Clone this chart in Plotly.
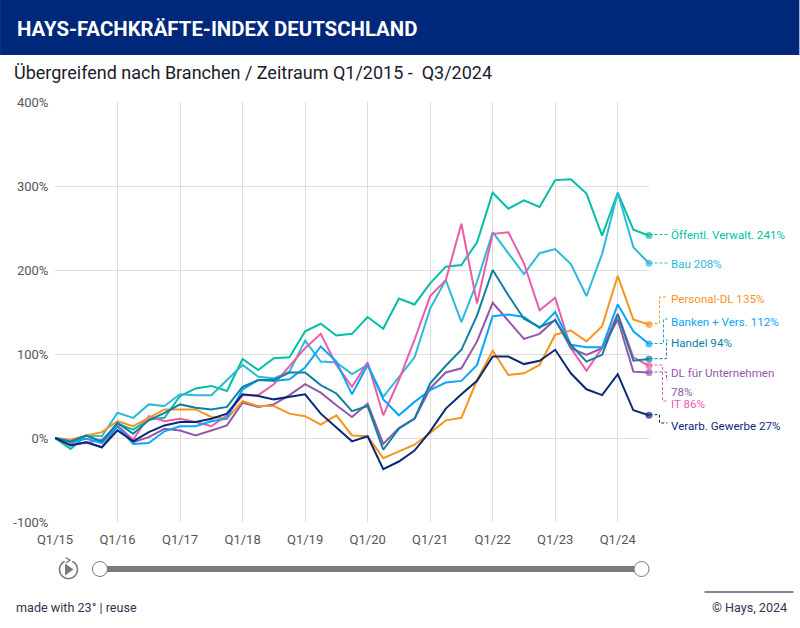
import math
import plotly.graph_objects as go

years = [15, 16, 17, 18, 19, 20, 21, 22, 23, 24]
quarters = [f"Q{q}/{y}" for y in years for q in (1, 2, 3, 4)][:39]
tick_labels = [f"Q1/{y}" for y in years]

oeffentl = [0, -13, 3, -5, 17, 10, 22, 24, 50, 59, 62, 56, 94, 81, 95, 96, 127, 136, 122, 124, 144, 130, 166, 159, 184, 204, 206, 233, 292, 273, 283, 275, 307, 308, 291, 241, 292, 248, 241]
bau = [0, -7, 3, 2, 30, 24, 40, 38, 52, 51, 51, 69, 87, 73, 71, 79, 116, 91, 90, 76, 87, 49, 72, 96, 154, 188, 138, 186, 245, 220, 195, 220, 225, 207, 169, 219, 292, 227, 208]
personal = [0, -2, 3, 7, 20, 14, 24, 34, 34, 34, 25, 23, 44, 38, 38, 29, 26, 16, 27, 3, 2, -24, -16, -8, 6, 21, 24, 69, 104, 75, 77, 87, 123, 128, 115, 133, 193, 141, 135]
banken = [0, -5, -1, -6, 14, -7, -6, 8, 14, 14, 20, 23, 58, 69, 68, 70, 84, 109, 91, 52, 87, 46, 27, 43, 57, 66, 68, 87, 145, 147, 144, 131, 150, 111, 108, 108, 159, 127, 112]
handel = [0, -4, 3, -4, 18, 5, 21, 30, 40, 36, 34, 37, 61, 69, 69, 78, 78, 63, 53, 32, 38, -14, 11, 23, 65, 86, 105, 146, 200, 170, 142, 132, 140, 111, 91, 99, 147, 92, 94]
it = [0, -7, -6, -2, 15, -2, 26, 20, 23, 19, 14, 27, 51, 51, 64, 85, 107, 124, 87, 61, 90, 27, 69, 117, 169, 188, 255, 160, 243, 245, 208, 152, 167, 107, 80, 107, 148, 96, 86]
dl = [0, -8, -5, -11, 14, -5, 1, 11, 9, 3, 9, 15, 42, 37, 40, 51, 64, 54, 39, 25, 41, -7, 12, 23, 59, 78, 83, 115, 161, 140, 118, 124, 141, 107, 99, 107, 141, 79, 78]
verarb = [0, -9, -5, -11, 9, -4, 7, 15, 19, 19, 23, 29, 52, 50, 46, 49, 52, 29, 13, -4, 2, -37, -28, -15, 8, 35, 52, 68, 97, 97, 88, 92, 105, 77, 58, 51, 76, 33, 27]

series_names = ["Öffentl. Verwalt.", "Bau", "IT", "DL für Unternehmen", "Personal-DL", "Banken + Vers.", "Handel", "Verarb. Gewerbe"]
series_values = [oeffentl, bau, it, dl, personal, banken, handel, verarb]
series_colors = ["#00BFA5", "#2FB9D8", "#EB5CA6", "#9558A8", "#F7941E", "#0BA5FA", "#0F7FA3", "#0A2A75"]

L, R, T, B = 55.0, 649.5, 102.0, 522.0
def px(x): return (x - L) / (R - L)
def py(y): return (B - y) / (B - T)

fig = go.Figure()
for name, vals, col in zip(series_names, series_values, series_colors):
    fig.add_trace(go.Scatter(
        x=quarters, y=vals, name=name, mode="lines+markers", cliponaxis=False,
        line=dict(color=col, width=2),
        marker=dict(color=col, size=[0] * (len(vals) - 1) + [7], line=dict(width=0)),
        showlegend=False, hovertemplate="%{x}: %{y}%<extra>" + name + "</extra>"))

shapes = []
annos = []
def rect(x0, y0, x1, y1, fill):
    shapes.append(dict(type="rect", xref="paper", yref="paper", x0=px(x0), x1=px(x1), y0=py(y0), y1=py(y1),
                       fillcolor=fill, line=dict(width=0), layer="below"))
def path(points, col, dash="dash", w=1):
    d = "M" + " L".join(f"{px(a)},{py(b)}" for a, b in points)
    shapes.append(dict(type="path", xref="paper", yref="paper", path=d, line=dict(color=col, width=w, dash=dash), layer="below"))
def text(x, y, s, col, size=12, anchor="left", fam="Roboto"):
    annos.append(dict(xref="paper", yref="paper", x=px(x), y=py(y), text=s, showarrow=False, xanchor=anchor,
                      yanchor="middle", align="left", xshift=-1 if anchor == "left" else 1, borderpad=0,
                      font=dict(family=fam, size=size, color=col)))

rect(0, 0, 800, 55, "#00287A")
text(17, 29, "<b>HAYS-FACHKRÄFTE-INDEX DEUTSCHLAND</b>", "#FFFFFF", 20.4)
text(14, 72, "Übergreifend nach Branchen / Zeitraum Q1/2015 -  Q3/2024", "#1B1B2B", 18)

labels = [
    ("Öffentl. Verwalt. 241%", 0, 235, [(650, 234.5), (668, 234.5)]),
    ("Bau 208%", 1, 263.5, [(650, 263), (668, 263)]),
    ("Personal-DL 135%", 4, 299, [(650, 323.5), (660, 323.5), (660, 297), (668, 297)]),
    ("Banken + Vers. 112%", 5, 322, [(650, 343.5), (664, 343.5), (664, 319), (668, 319)]),
    ("Handel 94%", 6, 343, [(650, 358.7), (667, 358.7), (667, 340), (668, 340)]),
    ("DL für Unternehmen", 3, 373, [(650, 372), (667, 372), (667, 380), (668, 380)]),
    ("78%", 3, 392, None),
    ("IT 86%", 2, 404, [(650, 365), (663, 365), (663, 401), (668, 401)]),
    ("Verarb. Gewerbe 27%", 7, 426, [(650, 414.7), (660, 414.7), (660, 423), (668, 423)]),
]
for s, idx, y, pts in labels:
    text(672, y, s, series_colors[idx], 11.6)
    if pts:
        path(pts, series_colors[idx], dash="3px,2px")

# slider
grey = "#7A7A7A"
rect(100, 566, 642, 572, grey)
for cx in (100, 642):
    shapes.append(dict(type="circle", xref="paper", yref="paper", x0=px(cx - 7.5), x1=px(cx + 7.5), y0=py(569 + 7.5), y1=py(569 - 7.5),
                       fillcolor="#FFFFFF", line=dict(color=grey, width=1), layer="above"))
# replay icon: open ring, small arrow head, play triangle
cx, cy, r = 68.5, 569.5, 9.0
ring = [(cx + r * math.sin(math.radians(a)), cy - r * math.cos(math.radians(a))) for a in range(25, 345, 10)]
path(ring, grey, dash="solid", w=1.6)
path([(65.5, 557.5), (70.0, 560.0), (66.0, 563.0)], grey, dash="solid", w=1.4)
shapes.append(dict(type="path", xref="paper", yref="paper",
                   path=f"M{px(65)},{py(563.5)} L{px(73.5)},{py(569.5)} L{px(65)},{py(575.5)} Z", fillcolor=grey, line=dict(width=0)))

# footer
path([(705, 592), (794, 592)], "#0A0A3C", dash="solid", w=1)
text(15.5, 607, "made with 23° | reuse", "#33334D", 12.6)
text(788, 607, "© Hays, 2024", "#33334D", 12.6, anchor="right")

fig.update_layout(
    width=800, height=628, autosize=False,
    margin=dict(l=L, r=800 - R, t=T, b=628 - B, pad=0),
    paper_bgcolor="#FFFFFF", plot_bgcolor="#FFFFFF",
    font=dict(family="Roboto", size=13, color="#555555"),
    shapes=shapes, annotations=annos,
    xaxis=dict(type="category", categoryorder="array", categoryarray=quarters, range=[0, 38],
               tickmode="array", tickvals=tick_labels, ticktext=tick_labels, showgrid=True,
               gridcolor="#DDDDDD", gridwidth=1, zeroline=False, showline=False,
               ticks="outside", ticklen=5, tickcolor="rgba(0,0,0,0)",
               tickfont=dict(family="Roboto", size=13, color="#555555"), tickangle=0, automargin=False),
    yaxis=dict(range=[-100, 400], tickmode="array", tickvals=[-100, 0, 100, 200, 300, 400],
               ticktext=["-100%", "0%", "100%", "200%", "300%", "400%"], showgrid=True,
               gridcolor="#DDDDDD", gridwidth=1, zeroline=False, showline=False,
               ticks="outside", ticklen=3, tickcolor="rgba(0,0,0,0)",
               tickfont=dict(family="Roboto", size=13, color="#555555"), automargin=False),
)
fig.write_html("out.html", post_script="document.body.style.margin='0';document.body.style.overflow='hidden';",
               config=dict(displayModeBar=False))
